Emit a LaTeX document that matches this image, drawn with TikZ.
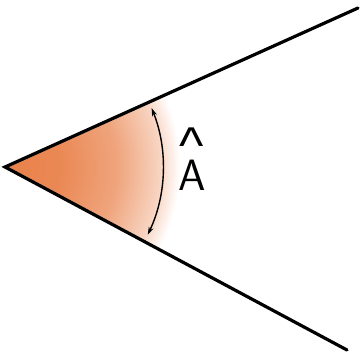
\documentclass[tikz,border=0pt]{standalone}
\usepackage{fontspec}
\newfontfamily\caretfont{Liberation Sans}
\usepackage{tikz}
\usetikzlibrary{arrows.meta}
\usepackage{xcolor}
\definecolor{AngleOrange}{HTML}{E9814A}
\pgfdeclareradialshading{sectorfade}{\pgfpoint{0bp}{0bp}}{%
  color(0bp)=(AngleOrange); color(8bp)=(AngleOrange!94);
  color(16bp)=(AngleOrange!72); color(22bp)=(AngleOrange!35);
  color(25bp)=(white); color(50bp)=(white)}

\begin{document}
\begin{tikzpicture}[x=1bp,y=1bp,
    ray/.style={line width=3.2bp,line cap=round},
    anglearrow/.style={line width=1.4bp,{Stealth[length=8bp,width=5bp]}-{Stealth[length=8bp,width=5bp]}}]
    \useasboundingbox (0,0) rectangle (360,358);
    \def\r{158}
    \coordinate (O) at (5,191);
    \coordinate (P) at (358,350);
    \coordinate (Q) at (347,8);
    % shaded sector
    \begin{scope}
      \clip (O) -- (P) -- (Q) -- cycle;
      \shade[shading=sectorfade] (O) circle (175);
    \end{scope}
    \draw[ray] (P) -- (O) -- (Q);
    % angle arc
    \draw[anglearrow] (O) ++(21.9:\r) arc (21.9:-25.4:\r);
    \node[font=\fontsize{44}{40}\selectfont\sffamily,align=center,inner sep=0pt]
      (label) at (192,199) {{\caretfont\fontsize{52}{40}\selectfont\textasciicircum}\\[-13pt]A};
  \end{tikzpicture}
\end{document}
